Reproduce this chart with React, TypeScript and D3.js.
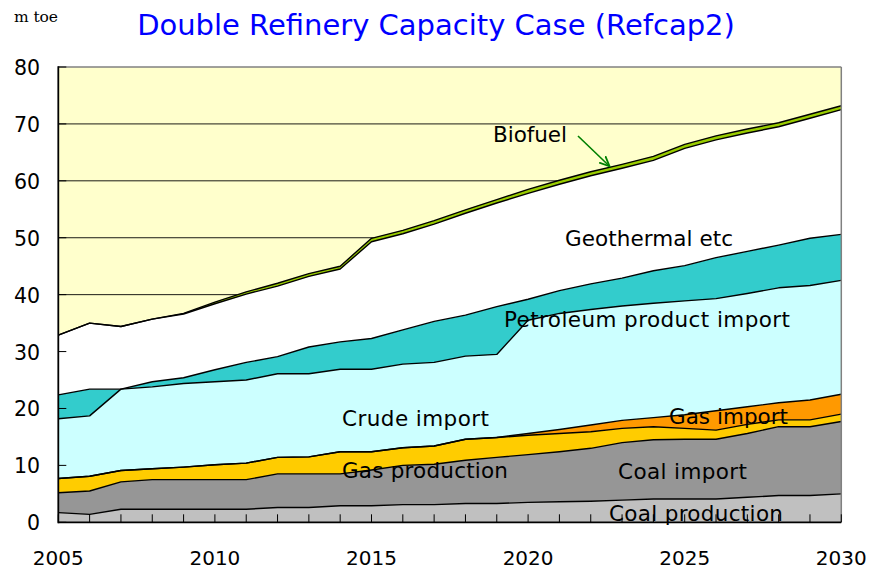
import * as d3 from 'd3'

// m toe
const years = [2005, 2006, 2007, 2008, 2009, 2010, 2011, 2012, 2013, 2014, 2015, 2016, 2017,
  2018, 2019, 2020, 2021, 2022, 2023, 2024, 2025, 2026, 2027, 2028, 2029, 2030]

const coalProduction = [1.7, 1.4, 2.3, 2.3, 2.3, 2.3, 2.3, 2.6, 2.6, 2.9, 2.9, 3.1, 3.1,
  3.3, 3.3, 3.5, 3.6, 3.7, 3.9, 4.1, 4.1, 4.1, 4.4, 4.7, 4.7, 5.0]
const coalImport = [3.5, 4.1, 4.8, 5.2, 5.2, 5.2, 5.2, 5.9, 5.9, 5.6, 6.3, 6.9, 7.1,
  7.6, 8.1, 8.4, 8.8, 9.3, 10.1, 10.4, 10.5, 10.5, 11.2, 12.1, 12.1, 12.7]
const gasProduction = [2.5, 2.6, 2.0, 1.9, 2.2, 2.6, 2.9, 2.9, 3.0, 3.9, 3.2, 3.1, 3.2,
  3.7, 3.5, 3.4, 3.2, 2.9, 2.5, 2.3, 1.9, 1.6, 1.6, 1.2, 1.2, 1.3]
const gasImport = [0, 0, 0, 0, 0, 0, 0, 0, 0, 0, 0, 0, 0,
  0, 0, 0.3, 0.7, 1.2, 1.4, 1.6, 2.4, 3.4, 3.1, 3.0, 3.5, 3.5]
const crudeImport = [10.5, 10.6, 14.3, 14.4, 14.7, 14.6, 14.6, 14.7, 14.6, 14.5, 14.5, 14.7, 14.7,
  14.6, 14.6, 19.9, 20.4, 20.3, 20.1, 20.1, 20.0, 19.7, 19.9, 20.2, 20.1, 20.0]
const petroleumProductImport = [4.2, 4.7, 0.0, 0.9, 1.0, 2.1, 3.1, 3.0, 4.7, 4.8, 5.4, 6.0, 7.2,
  7.2, 8.4, 3.7, 4.0, 4.5, 4.9, 5.7, 6.2, 7.2, 7.4, 7.5, 8.3, 8.1]
const geothermal = [10.5, 11.6, 11.0, 11.0, 11.2, 11.6, 12.0, 12.4, 12.4, 12.8, 17.0, 16.9, 17.1,
  17.9, 18.2, 18.6, 18.7, 19.0, 19.3, 19.4, 20.6, 20.7, 20.8, 20.8, 21.1, 21.9]
const biofuel = [0, 0, 0, 0, 0.1, 0.3, 0.4, 0.5, 0.5, 0.5, 0.6, 0.6, 0.6,
  0.6, 0.6, 0.7, 0.7, 0.7, 0.7, 0.7, 0.7, 0.7, 0.7, 0.7, 0.7, 0.7]

const yTicks = [0, 10, 20, 30, 40, 50, 60, 70, 80]
const xTickLabels = [2005, 2010, 2015, 2020, 2025, 2030]

const seriesKeys = ['coalProduction', 'coalImport', 'gasProduction', 'gasImport',
  'crudeImport', 'petroleumProductImport', 'geothermal', 'biofuel']
const colors: Record<string, string> = {
  coalProduction: '#c0c0c0',
  coalImport: '#969696',
  gasProduction: '#ffcc00',
  gasImport: '#ff9900',
  crudeImport: '#ccffff',
  petroleumProductImport: '#33cccc',
  geothermal: '#ffffff',
  biofuel: '#99cc00',
}

const rows = years.map((year, i) => ({
  year,
  coalProduction: coalProduction[i],
  coalImport: coalImport[i],
  gasProduction: gasProduction[i],
  gasImport: gasImport[i],
  crudeImport: crudeImport[i],
  petroleumProductImport: petroleumProductImport[i],
  geothermal: geothermal[i],
  biofuel: biofuel[i],
}))

// labels sit in the areas, like in the original slide
const labels = [
  { text: 'Biofuel', x: 493, y: 142, w: 74 },
  { text: 'Geothermal etc', x: 565, y: 246, w: 168 },
  { text: 'Petroleum product import', x: 504, y: 327, w: 286 },
  { text: 'Crude import', x: 342, y: 426, w: 147 },
  { text: 'Gas production', x: 342, y: 478, w: 166 },
  { text: 'Gas import', x: 669, y: 424, w: 119 },
  { text: 'Coal import', x: 618, y: 479, w: 129 },
  { text: 'Coal production', x: 609, y: 521, w: 174 },
]

export default function App() {
  const W = 881, H = 570
  const left = 58.3, right = 841.3, top = 67, bottom = 522.3

  const x = d3.scaleLinear().domain([2005, 2030]).range([left, right])
  const y = d3.scaleLinear().domain([0, 80]).range([bottom, top])

  const stacked = d3.stack<any>().keys(seriesKeys)(rows)

  const area = d3.area<any>()
    .x((d) => x(d.data.year))
    .y0((d) => y(d[0]))
    .y1((d) => y(d[1]))
  const topLine = d3.line<any>()
    .x((d) => x(d.data.year))
    .y((d) => y(d[1]))

  const font = 'DejaVu Sans, Verdana, sans-serif'

  // biofuel pointer
  const tipYear = 2022.6
  const bioSeries = stacked[stacked.length - 1]
  const i0 = Math.floor(tipYear - 2005)
  const tipVal = bioSeries[i0][1] + (bioSeries[i0 + 1][1] - bioSeries[i0][1]) * (tipYear - years[i0])

  return (
    <svg width={W} height={H} style={{ position: 'absolute', left: 0, top: 0, background: '#fff' }}>
      <defs>
        <marker id="arr" viewBox="0 0 10 10" refX="9" refY="5" markerWidth="7" markerHeight="7" orient="auto">
          <path d="M0,1 L9,5 L0,9" fill="none" stroke="#008000" strokeWidth="1.6" />
        </marker>
      </defs>
      <text x={14} y={22} fontFamily="DejaVu Serif, Liberation Serif, serif" fontSize={15.5}
        textLength={44} lengthAdjust="spacing" fill="#000">m toe</text>
      <text x={436} y={35} textAnchor="middle" fontFamily={font} fontSize={29} fill="#0000ff">
        Double Refinery Capacity Case (Refcap2)
      </text>

      <rect x={left} y={top} width={right - left} height={bottom - top} fill="#ffffcc" />
      {yTicks.filter((t) => t > 0 && t < 80).map((t) => (
        <line key={t} x1={left} x2={right} y1={y(t)} y2={y(t)} stroke="#000" strokeWidth={0.9} />
      ))}

      {stacked.map((s) => (
        <path key={s.key} d={area(s) || ''} fill={colors[s.key]} />
      ))}
      {stacked.map((s) => (
        <path key={s.key + '-l'} d={topLine(s) || ''} fill="none" stroke="#000"
          strokeWidth={1.4} strokeLinejoin="round" />
      ))}

      {/* frame */}
      <line x1={left} x2={right} y1={top} y2={top} stroke="#808080" strokeWidth={1.5} />
      <line x1={right} x2={right} y1={top} y2={bottom} stroke="#808080" strokeWidth={1.5} />
      <line x1={left} x2={left} y1={top - 0.75} y2={bottom + 1} stroke="#000" strokeWidth={1.8} />
      <line x1={left} x2={right} y1={bottom} y2={bottom} stroke="#000" strokeWidth={1.8} />

      {yTicks.map((t) => (
        <g key={t}>
          <line x1={left} x2={left + 8} y1={y(t)} y2={y(t)} stroke="#000" strokeWidth={1} />
          <text x={40} y={y(t) + 8} textAnchor="end" fontFamily={font} fontSize={20.5} fill="#000">{t}</text>
        </g>
      ))}
      {years.map((yr) => (
        <line key={yr} x1={x(yr)} x2={x(yr)} y1={bottom} y2={bottom - 8} stroke="#000" strokeWidth={1} />
      ))}
      {xTickLabels.map((yr) => (
        <text key={yr} x={x(yr)} y={565} textAnchor="middle" fontFamily={font} fontSize={20} fill="#000">{yr}</text>
      ))}

      {labels.map((l) => (
        <text key={l.text} x={l.x} y={l.y} fontFamily={font} fontSize={21.5} fill="#000"
          textLength={l.w} lengthAdjust="spacing">{l.text}</text>
      ))}
      <line x1={578} y1={136} x2={x(tipYear)} y2={y(tipVal) - 1} stroke="#008000" strokeWidth={1.6}
        markerEnd="url(#arr)" />
    </svg>
  )
}
